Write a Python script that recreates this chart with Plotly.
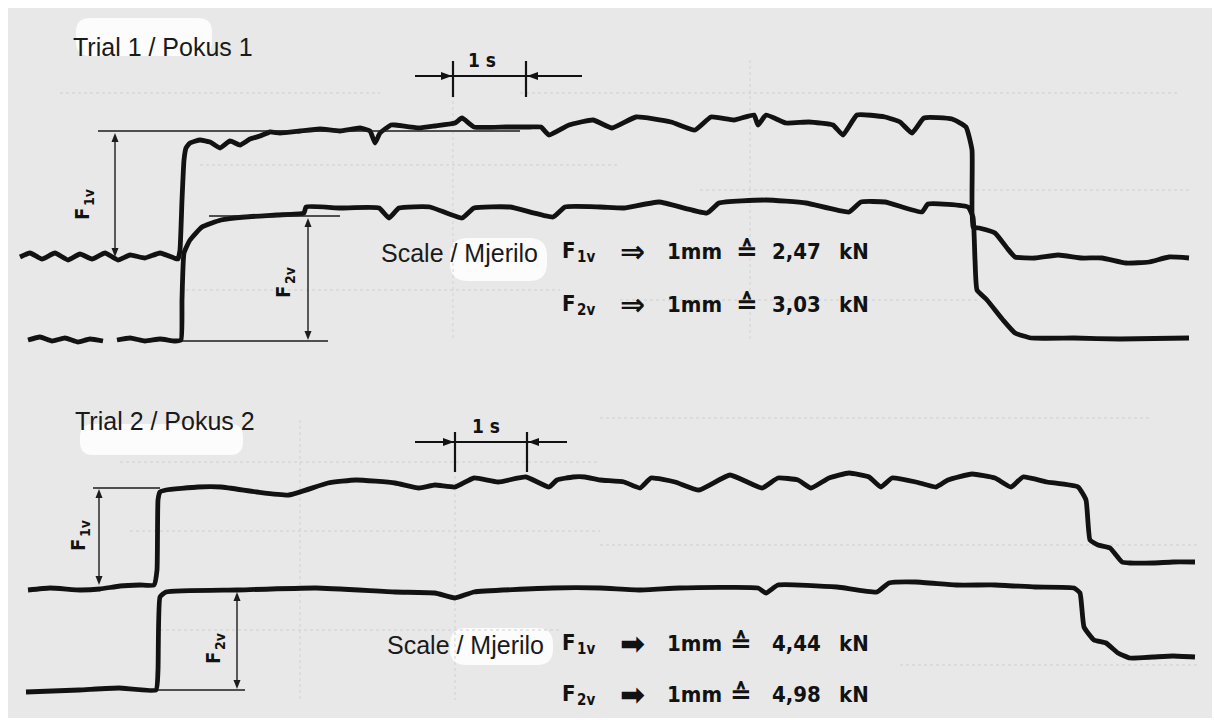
import plotly.graph_objects as go

# ---------------- data (chart units: recorder paper coordinates) ----------------
t1_f1_x = [20, 30, 42, 55, 68, 80, 92, 105, 118, 130, 145, 160, 174, 178, 180, 182, 184, 186, 190, 200, 210,
           220, 230, 240, 250, 260, 270, 280, 300, 320, 340, 360, 370, 375, 380, 391, 395, 419, 435, 455, 462,
           474, 506, 530, 541, 549, 569, 593, 612, 636, 671, 695, 711, 734, 754, 758, 766, 786, 809, 833, 843,
           857, 885, 900, 912, 924, 952, 966, 972, 973, 979, 995, 1007, 1015, 1035, 1058, 1082, 1102, 1126,
           1149, 1169, 1189]
t1_f1_y = [257, 253, 259, 253, 260, 254, 259, 253, 260, 255, 258, 253, 258, 259, 250, 200, 160, 148, 143, 140, 142,
           148, 141, 145, 139, 136, 132, 133, 131, 129, 131, 128, 131, 143, 133, 125, 125, 128, 126, 123, 118,
           127, 127, 127, 127, 135, 125, 120, 128, 117, 122, 130, 117, 120, 115, 125, 115, 123, 122, 125, 135,
           115, 117, 122, 133, 118, 119, 127, 150, 227, 228, 233, 248, 257, 258, 255, 258, 258, 263,
           262, 257, 258]

t1_f2_x = [28, 40, 52, 65, 78, 90, 103, None, 117, 130, 145, 160, 175, 181, 182, 184, 190, 202, 221, 245, 277,
           304, 306, 340, 379, 389, 399, 430, 462, 474, 510, 553, 565, 600, 624, 659, 707, 719, 766, 806, 849,
           861, 885, 922, 928, 968, 973, 975, 977, 987, 1003, 1015, 1031, 1074, 1120, 1189]
t1_f2_y = [340, 337, 341, 338, 342, 339, 341, None, 340, 338, 341, 339, 341, 340, 300, 253, 240, 227, 220, 217, 215,
           213, 207, 208, 208, 218, 208, 207, 218, 208, 207, 217, 207, 207, 208, 202, 213, 203, 200, 203, 212,
           202, 202, 212, 204, 207, 217, 260, 290, 300, 320, 333, 338, 338, 339, 338]

t2_f1_x = [28, 50, 80, 100, 120, 140, 154, 157, 158, 160, 166, 198, 221, 257, 289, 328, 356, 395, 419, 435, 455,
           474, 498, 526, 549, 557, 573, 585, 600, 624, 640, 651, 675, 699, 730, 762, 778, 798, 811, 829, 849,
           869, 881, 892, 916, 936, 948, 972, 995, 1011, 1023, 1047, 1078, 1086, 1090, 1098, 1110, 1122, 1130,
           1153, 1173, 1195]
t2_f1_y = [590, 588, 590, 589, 586, 585, 585, 570, 500, 492, 490, 487, 487, 492, 495, 483, 480, 483, 488, 485, 487,
           478, 482, 477, 487, 480, 477, 477, 480, 482, 488, 478, 482, 490, 475, 488, 478, 480, 488, 478, 473,
           477, 487, 478, 482, 487, 480, 474, 478, 487, 477, 482, 487, 500, 540, 545, 548, 562, 563,
           563, 562, 562]

t2_f2_x = [26, 79, 119, 156, 158, 160, 166, 237, 316, 395, 435, 455, 474, 553, 600, 640, 679, 758, 766, 778, 837,
           877, 889, 916, 956, 995, 1035, 1074, 1080, 1084, 1094, 1106, 1118, 1130, 1153, 1173, 1195]
t2_f2_y = [692, 690, 688, 690, 670, 597, 592, 590, 588, 592, 593, 598, 592, 588, 588, 590, 588, 588, 593, 585, 587,
           592, 583, 582, 585, 585, 587, 588, 593, 627, 640, 643, 653, 658, 657, 656, 657]

titles = ["Trial 1 / Pokus 1", "Trial 2 / Pokus 2"]
scale_values = [["2,47", "3,03"], ["4,44", "4,98"]]
force_subs = ["1v", "2v"]

# ---------------- figure ----------------
INK = "#121212"
fig = go.Figure()

for xs, ys in [(t1_f1_x, t1_f1_y), (t1_f2_x, t1_f2_y), (t2_f1_x, t2_f1_y), (t2_f2_x, t2_f2_y)]:
    fig.add_trace(go.Scatter(x=xs, y=ys, mode="lines", connectgaps=False,
                             line=dict(color=INK, width=4.8, shape="spline", smoothing=0.4),
                             hoverinfo="skip", showlegend=False))

shapes = []
# paper background
shapes.append(dict(type="rect", xref="x", yref="y", x0=8, y0=8, x1=1212, y1=718,
                   fillcolor="#e8e8e8", line=dict(width=0), layer="below"))


def rrect(x0, y0, x1, y1, r):
    return (f"M {x0+r},{y0} L {x1-r},{y0} Q {x1},{y0} {x1},{y0+r} L {x1},{y1-r} Q {x1},{y1} {x1-r},{y1} "
            f"L {x0+r},{y1} Q {x0},{y1} {x0},{y1-r} L {x0},{y0+r} Q {x0},{y0} {x0+r},{y0} Z")


def tri(xt, yt, d, L=9, W=3.5):
    if d == "up":
        p = [(xt, yt), (xt - W, yt + L), (xt + W, yt + L)]
    elif d == "down":
        p = [(xt, yt), (xt - W, yt - L), (xt + W, yt - L)]
    elif d == "right":
        p = [(xt, yt), (xt - L, yt - W), (xt - L, yt + W)]
    else:
        p = [(xt, yt), (xt + L, yt - W), (xt + L, yt + W)]
    return "M " + " L ".join(f"{a},{b}" for a, b in p) + " Z"


for (a, b, c, d, r) in [(76, 18, 212, 56, 14), (80, 424, 243, 455, 13), (450, 238, 547, 281, 18), (450, 628, 553, 665, 16)]:
    shapes.append(dict(type="path", xref="x", yref="y", path=rrect(a, b, c, d, r),
                       fillcolor="#fcfcfc", line=dict(width=0), layer="below"))

# faint scan grid texture
for (xa, xb, yy) in [(60, 380, 93), (520, 1180, 93), (200, 620, 165), (700, 1190, 190), (180, 560, 290),
                     (620, 980, 300), (120, 600, 462), (600, 1150, 418), (130, 600, 531), (600, 1200, 545),
                     (160, 560, 630), (900, 1200, 665)]:
    shapes.append(dict(type="line", xref="x", yref="y", x0=xa, x1=xb, y0=yy, y1=yy,
                       line=dict(color="#cdcdcd", width=1.2, dash="dot"), layer="below"))
for (xx, ya, yb) in [(453, 95, 340), (455, 470, 700), (750, 60, 340), (300, 420, 700)]:
    shapes.append(dict(type="line", xref="x", yref="y", x0=xx, x1=xx, y0=ya, y1=yb,
                       line=dict(color="#d2d2d2", width=1, dash="dot"), layer="below"))

# reference lines for the force readings
thin = dict(color="#1c1c1c", width=1.6)
for (xa, xb, yy) in [(98, 520, 131), (209, 340, 216), (182, 328, 341), (93, 160, 488), (158, 245, 690)]:
    shapes.append(dict(type="line", xref="x", yref="y", x0=xa, x1=xb, y0=yy, y1=yy, line=thin))

# dimension arrows (both ends)
for (xx, ya, yb) in [(115, 133, 257), (308, 218, 340), (99, 489, 585), (237, 592, 689)]:
    shapes.append(dict(type="line", xref="x", yref="y", x0=xx, x1=xx, y0=ya + 4, y1=yb - 4,
                       line=dict(color="#1c1c1c", width=1.4)))
    shapes.append(dict(type="path", xref="x", yref="y", path=tri(xx, ya, "up"), fillcolor="#1c1c1c",
                       line=dict(width=0)))
    shapes.append(dict(type="path", xref="x", yref="y", path=tri(xx, yb, "down"), fillcolor="#1c1c1c",
                       line=dict(width=0)))

# 1 s markers
for (xa, xb, yy, t1, t2, ya, yb) in [(415, 582, 76, 453, 526, 61, 97), (415, 567, 442, 455, 527, 432, 472)]:
    shapes.append(dict(type="line", xref="x", yref="y", x0=xa, x1=xb, y0=yy, y1=yy, line=dict(color=INK, width=2.2)))
    shapes.append(dict(type="line", xref="x", yref="y", x0=t1, x1=t1, y0=ya, y1=yb, line=dict(color=INK, width=2.2)))
    shapes.append(dict(type="line", xref="x", yref="y", x0=t2, x1=t2, y0=ya, y1=yb, line=dict(color=INK, width=2.2)))
    shapes.append(dict(type="path", xref="x", yref="y", path=tri(t1 - 1, yy, "right", 11, 4), fillcolor=INK,
                       line=dict(width=0)))
    shapes.append(dict(type="path", xref="x", yref="y", path=tri(t2 + 1, yy, "left", 11, 4), fillcolor=INK,
                       line=dict(width=0)))

annotations = []
CFONT = "DejaVu Sans Condensed, DejaVu Sans"


def txt(x, y, s, size, family=CFONT, bold=True, xanchor="center", angle=0, color=INK):
    annotations.append(dict(x=x, y=y, xref="x", yref="y", text=s, showarrow=False, xanchor=xanchor,
                            textangle=angle,
                            font=dict(family=family, size=size, color=color,
                                      weight="bold" if bold else "normal")))


for (xx, yy) in [(482, 60), (486, 426)]:
    txt(xx, yy, "1 s", 19)

# titles
txt(71, 47, titles[0], 25, family="Liberation Sans, Arial", bold=False, xanchor="left", color="#1a1a1a")
txt(73, 421, titles[1], 25, family="Liberation Sans, Arial", bold=False, xanchor="left", color="#1a1a1a")

# rotated force labels (F + subscript, reading upward)
for (xx, yy, s) in [(82, 214, force_subs[0]), (283, 292, force_subs[1]),
                    (78, 545, force_subs[0]), (213, 658, force_subs[1])]:
    txt(xx, yy, "F", 20, angle=-90)
    txt(xx + 7, yy - 17, s, 14, angle=-90)

# scale legends
for k, (y1, y2) in enumerate([(251, 304), (643, 694)]):
    txt(379 + (6 if k else 0), y1 + 2, "Scale / Mjerilo", 25, family="Liberation Sans, Arial", bold=False,
        xanchor="left", color="#1a1a1a")
    for row, yy in enumerate([y1, y2]):
        arr = "⇒" if k == 0 else "➡"
        txt(560, yy - 1, "F", 22, xanchor="left")
        txt(575, yy + 6, force_subs[row], 15, xanchor="left")
        txt(632, yy, arr, 30, family="DejaVu Sans")
        txt(694, yy, "1mm", 22)
        txt(747 if k == 0 else 741, yy, "≙", 26, family="DejaVu Sans")
        txt(796, yy, scale_values[k][row], 22)
        txt(854, yy, "kN", 22)

fig.update_layout(
    width=1214, height=720, margin=dict(l=0, r=0, t=0, b=0),
    paper_bgcolor="#ffffff", plot_bgcolor="#ffffff",
    xaxis=dict(range=[0, 1214], visible=False, fixedrange=True),
    yaxis=dict(range=[720, 0], visible=False, fixedrange=True),
    shapes=shapes, annotations=annotations, showlegend=False,
)

fig.write_html("out.html")
